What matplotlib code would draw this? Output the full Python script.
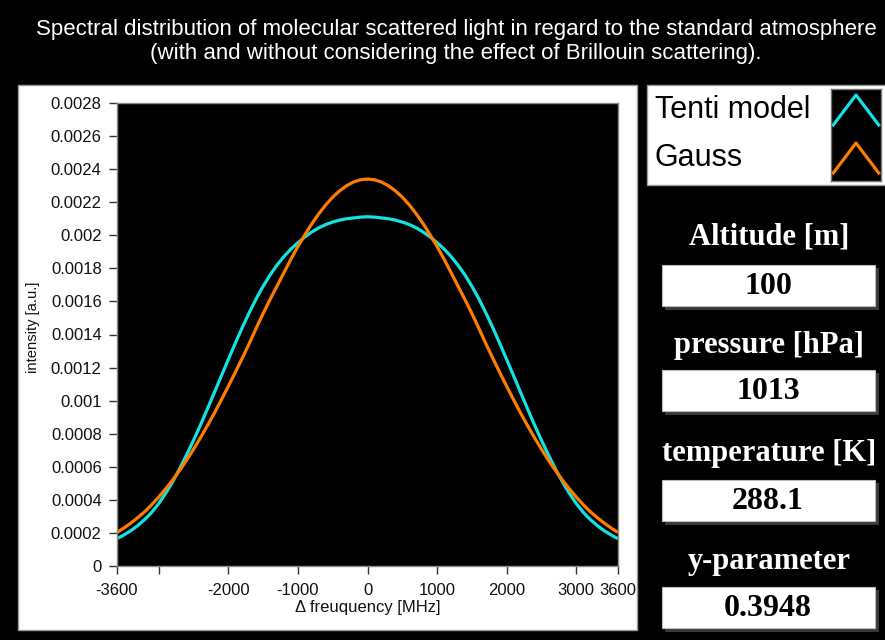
import matplotlib
matplotlib.use("Agg")
import matplotlib.pyplot as plt
from matplotlib.patches import Rectangle

# ---------------- data ----------------
# frequency offset grid, -3600 ... 3600 MHz in 100 MHz steps
freq_mhz = list(range(-3600, 3601, 100))

tenti = [0.000165, 0.000188, 0.000214, 0.000245, 0.000282, 0.000325, 0.000378, 0.000440,
         0.000510, 0.000588, 0.000672, 0.000760, 0.000853, 0.000951, 0.001050, 0.001150,
         0.001249, 0.001347, 0.001442, 0.001532, 0.001616, 0.001692, 0.001760, 0.001820,
         0.001872, 0.001917, 0.001955, 0.001990, 0.002020, 0.002045, 0.002065, 0.002080,
         0.002092, 0.002100, 0.002105, 0.002110,
         0.002112,
         0.002110, 0.002105, 0.002100, 0.002092, 0.002080, 0.002065, 0.002045, 0.002020,
         0.001990, 0.001955, 0.001917, 0.001872, 0.001820, 0.001760, 0.001692, 0.001616,
         0.001532, 0.001442, 0.001347, 0.001249, 0.001150, 0.001050, 0.000951, 0.000853,
         0.000760, 0.000672, 0.000588, 0.000510, 0.000440, 0.000378, 0.000325, 0.000282,
         0.000245, 0.000214, 0.000188, 0.000165]

gauss = [0.000203, 0.000230, 0.000260, 0.000293, 0.000329, 0.000371, 0.000417, 0.000467,
         0.000520, 0.000578, 0.000640, 0.000706, 0.000776, 0.000849, 0.000925, 0.001005,
         0.001087, 0.001171, 0.001257, 0.001345, 0.001438, 0.001527, 0.001612, 0.001693,
         0.001775, 0.001856, 0.001932, 0.002003, 0.002070, 0.002130, 0.002184, 0.002231,
         0.002269, 0.002300, 0.002322, 0.002336,
         0.002340,
         0.002336, 0.002322, 0.002300, 0.002269, 0.002231, 0.002184, 0.002130, 0.002070,
         0.002003, 0.001932, 0.001856, 0.001775, 0.001693, 0.001612, 0.001527, 0.001438,
         0.001345, 0.001257, 0.001171, 0.001087, 0.001005, 0.000925, 0.000849, 0.000776,
         0.000706, 0.000640, 0.000578, 0.000520, 0.000467, 0.000417, 0.000371, 0.000329,
         0.000293, 0.000260, 0.000230, 0.000203]

x_ticks = [-3600, -3000, -2000, -1000, 0, 1000, 2000, 3000, 3600]
x_tick_labels = ["-3600", "", "-2000", "-1000", "0", "1000", "2000", "3000", "3600"]
y_ticks = [0, 0.0002, 0.0004, 0.0006, 0.0008, 0.001, 0.0012, 0.0014, 0.0016,
           0.0018, 0.002, 0.0022, 0.0024, 0.0026, 0.0028]
y_tick_labels = ["0", "0.0002", "0.0004", "0.0006", "0.0008", "0.001", "0.0012", "0.0014",
                 "0.0016", "0.0018", "0.002", "0.0022", "0.0024", "0.0026", "0.0028"]

series_names = ["Tenti model", "Gauss"]
param_names = ["Altitude [m]", "pressure [hPa]", "temperature [K]", "y-parameter"]
param_values = ["100", "1013", "288.1", "0.3948"]

title_lines = ["Spectral distribution of molecular scattered light in regard to the standard atmosphere",
               "(with and without considering the effect of Brillouin scattering)."]

# ---------------- styles ----------------
W, H = 885, 640
CYAN = "#12e2e2"
ORANGE = "#ff7c00"
SANS = ["Liberation Sans", "DejaVu Sans"]
SERIF = ["Liberation Serif", "DejaVu Serif"]

fig = plt.figure(figsize=(W / 100, H / 100), dpi=100, facecolor="black")


def fx(px):
    return px / W


def fy(py):
    return 1 - py / H


def frect(x0, y0, x1, y1, **kw):
    return Rectangle((fx(x0), fy(y1)), fx(x1) - fx(x0), (y1 - y0) / H,
                     transform=fig.transFigure, zorder=0, **kw)


# title
fig.text(fx(456), fy(29), title_lines[0], color="white", fontsize=16, family=SANS,
         ha="center", va="center")
fig.text(fx(456), fy(53), title_lines[1], color="white", fontsize=16, family=SANS,
         ha="center", va="center")

# white graph panel
fig.patches.append(frect(18, 85, 637, 630, facecolor="white", edgecolor="#9a9a9a", lw=1))

# plot axes
ax = fig.add_axes([fx(117), fy(566), fx(618) - fx(117), (566 - 103) / H])
ax.set_zorder(3)
ax.set_facecolor("black")
ax.plot(freq_mhz, tenti, color=CYAN, lw=2.3, solid_capstyle="butt", solid_joinstyle="round")
ax.plot(freq_mhz, gauss, color=ORANGE, lw=2.3, solid_capstyle="butt", solid_joinstyle="round")
ax.set_xlim(-3600, 3600)
ax.set_ylim(0, 0.0028)
ax.set_xticks(x_ticks)
ax.set_xticklabels(x_tick_labels)
ax.set_yticks(y_ticks)
ax.set_yticklabels(y_tick_labels)
ax.tick_params(axis="both", direction="out", length=6, width=1, color="#333333",
               labelsize=12, labelcolor="#111111")
ax.tick_params(axis="x", pad=6)
ax.tick_params(axis="y", pad=5)
for lab in ax.get_xticklabels() + ax.get_yticklabels():
    lab.set_family(SANS)
for s in ax.spines.values():
    s.set_color("#8a8a8a")
    s.set_linewidth(1)
ax.set_xlabel("\u0394 freuquency [MHz]", fontsize=12, family=SANS, color="#111111", labelpad=2)
fig.text(fx(33), fy(327), "intensity [a.u.]", rotation=90, fontsize=10.6, family=SANS,
         color="#111111", ha="center", va="center", zorder=2)

# legend panel
fig.patches.append(frect(647, 85, 886, 185, facecolor="white", edgecolor="#9a9a9a", lw=1))
fig.text(fx(655), fy(110), series_names[0], fontsize=22, family=SANS, color="black",
         ha="left", va="center", zorder=2)
fig.text(fx(655), fy(158), series_names[1], fontsize=22, family=SANS, color="black",
         ha="left", va="center", zorder=2)
lax = fig.add_axes([fx(831), fy(181), fx(881) - fx(831), (181 - 89) / H])
lax.set_zorder(3)
lax.set_facecolor("black")
lax.set_xlim(-0.1, 2.1)
lax.set_ylim(-0.15, 2.15)
lax.plot([0, 1, 2], [1.25, 2.0, 1.25], color=CYAN, lw=2.3)
lax.plot([0, 1, 2], [0.05, 0.8, 0.05], color=ORANGE, lw=2.3)
lax.set_xticks([])
lax.set_yticks([])
for s in lax.spines.values():
    s.set_color("#777777")
    s.set_linewidth(1)

# parameter panels
label_y = [237, 345, 453, 561]
box_top = [265, 370, 480, 587]
box_h = 41
for name, val, ly, bt in zip(param_names, param_values, label_y, box_top):
    fig.text(fx(769), fy(ly), name, fontsize=22, family=SERIF, weight="bold",
             color="white", ha="center", va="center", zorder=2)
    fig.patches.append(frect(665, bt + 3, 879, bt + box_h + 4, facecolor="#3a3a3a",
                             edgecolor="none"))
    fig.patches.append(frect(662, bt, 875, bt + box_h, facecolor="white",
                             edgecolor="#bbbbbb", lw=0.8))
    fig.text(fx(768), fy(bt + box_h / 2 + 1), val, fontsize=23, family=SERIF,
             weight="bold", color="black", ha="center", va="center", zorder=2)

fig.savefig("out.png", dpi=100, facecolor="black")
